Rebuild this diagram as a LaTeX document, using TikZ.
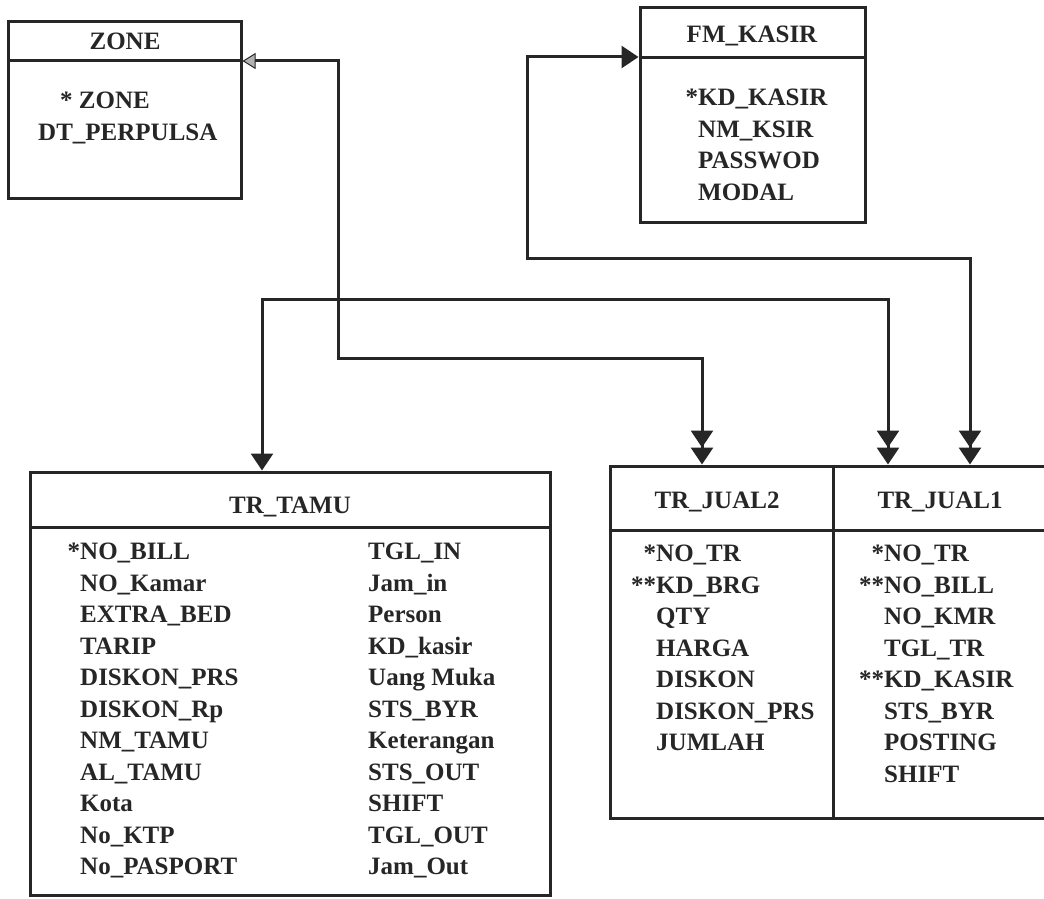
\documentclass[tikz,border=0pt]{standalone}
\usepackage{fontspec}
\setmainfont{Liberation Serif}
\usetikzlibrary{arrows.meta,positioning,calc}
\colorlet{ink}{black!85}
\tikzset{
  tbl/.style={draw=ink,line width=3pt,rectangle,inner sep=0pt},
  ttl/.style={font=\fontsize{25}{28}\selectfont\bfseries,text=ink,inner sep=0pt,anchor=base},
  fld/.style={font=\fontsize{25}{31.5}\selectfont\bfseries,text=ink,align=left,inner sep=0pt,anchor=north west},
  rule/.style={draw=ink,line width=3pt},
  lnk/.style={draw=ink,line width=3pt},
  onemany/.style={lnk,{Triangle[length=17pt,width=22pt]}-{Triangle[length=17pt,width=22pt]Triangle[length=17pt,width=22pt]}},
  reflnk/.style={lnk,{Triangle[length=13pt,width=16pt,fill=gray!60,line width=1pt]}-{Triangle[length=17pt,width=22pt]Triangle[length=17pt,width=22pt]}}
}
\begin{document}
\begin{tikzpicture}[x=1pt,y=-1pt]
  \useasboundingbox (0,0) rectangle (1044,899);

  \node[tbl,minimum width=233pt,minimum height=176pt] (zone) at (124.5,110) {};
  \node[tbl,minimum width=225pt,minimum height=214pt] (kasir) at (752.5,115) {};
  \node[tbl,minimum width=520pt,minimum height=423pt] (tamu) at (290,683.5) {};
  \node[tbl,minimum width=436pt,minimum height=352pt] (jual) at (828,642) {};

  \draw[rule] (zone.west |- 0,61) -- (zone.east |- 0,61);
  \draw[rule] (kasir.west |- 0,58) -- (kasir.east |- 0,58);
  \draw[rule] (tamu.west |- 0,527) -- (tamu.east |- 0,527);
  \draw[rule] (jual.west |- 0,530) -- (jual.east |- 0,530);
  \draw[rule] (jual.north -| 833,0) -- (jual.south -| 833,0);

  \node[ttl] (zonet) at (125,50) {ZONE};
  \node[ttl] (kasirt) at (752,43) {FM\_KASIR};
  \node[ttl] (tamut) at (290,513) {TR\_TAMU};
  \node[ttl] (jual2t) at (717,508) {TR\_JUAL2};
  \node[ttl] (jual1t) at (940,508) {TR\_JUAL1};

  \node[fld] (zonef) at (38,92) {\hspace{22pt}* ZONE\\DT\_PERPULSA};
  \node[fld] (kasirf) at (698,89) {\llap{*}KD\_KASIR\\NM\_KSIR\\PASSWOD\\MODAL};
  \node[fld] (tamuf1) at (80,543) {\llap{*}NO\_BILL\\NO\_Kamar\\EXTRA\_BED\\TARIP\\DISKON\_PRS\\DISKON\_Rp\\NM\_TAMU\\AL\_TAMU\\Kota\\No\_KTP\\No\_PASPORT};
  \node[fld] (tamuf2) at (368,543) {TGL\_IN\\Jam\_in\\Person\\KD\_kasir\\Uang Muka\\STS\_BYR\\Keterangan\\STS\_OUT\\SHIFT\\TGL\_OUT\\Jam\_Out};
  \node[fld] (jual2f) at (656,545) {\llap{*}NO\_TR\\\llap{**}KD\_BRG\\QTY\\HARGA\\DISKON\\DISKON\_PRS\\JUMLAH};
  \node[fld] (jual1f) at (884,545) {\llap{*}NO\_TR\\\llap{**}NO\_BILL\\NO\_KMR\\TGL\_TR\\\llap{**}KD\_KASIR\\STS\_BYR\\POSTING\\SHIFT};

  \draw[reflnk] (zone.east |- 0,61) -| (338,358) -| (jual.north -| 702,0);
  \draw[onemany] (tamu.north -| 262,0) |- (888,299) -- (jual.north -| 888,0);
  \draw[onemany] (kasir.west |- 0,57) -- (527,57) |- (970,258) -- (jual.north -| 970,0);
\end{tikzpicture}
\end{document}
